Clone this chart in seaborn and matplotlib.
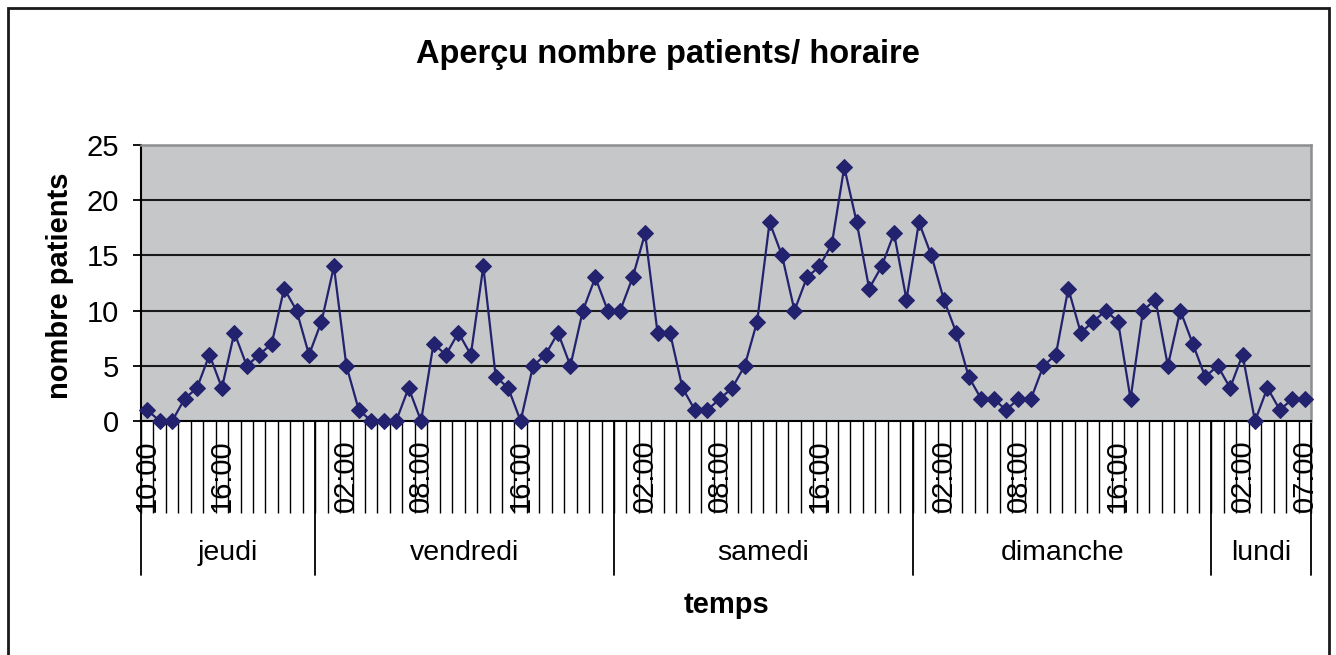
"""
Apercu du nombre de patients par heure (jeudi 10:00 -> lundi 07:00)
"""

import numpy as np
import pandas as pd
import matplotlib
matplotlib.use('Agg')
import matplotlib.pyplot as plt
import matplotlib.transforms as mtransforms
from matplotlib.patches import Rectangle
import seaborn as sns

# --- Donnees ---
jours = ['jeudi', 'vendredi', 'samedi', 'dimanche', 'lundi']
heures_par_jour = [list(range(10, 24)), list(range(24)), list(range(24)),
                   list(range(24)), list(range(8))]

patients_jeudi = [1, 0, 0, 2, 3, 6, 3, 8, 5, 6, 7, 12, 10, 6]
patients_vendredi = [9, 14, 5, 1, 0, 0, 0, 3, 0, 7, 6, 8, 6, 14, 4, 3, 0, 5,
                     6, 8, 5, 10, 13, 10]
patients_samedi = [10, 13, 17, 8, 8, 3, 1, 1, 2, 3, 5, 9, 18, 15, 10, 13, 14,
                   16, 23, 18, 12, 14, 17, 11]
patients_dimanche = [18, 15, 11, 8, 4, 2, 2, 1, 2, 2, 5, 6, 12, 8, 9, 10, 9, 2,
                     10, 11, 5, 10, 7, 4]
patients_lundi = [5, 3, 6, 0, 3, 1, 2, 2]

# heures affichees sous l'axe (les autres sont masquees comme dans Excel)
heures_affichees = {'jeudi': [10, 16], 'vendredi': [2, 8, 16],
                    'samedi': [2, 8, 16], 'dimanche': [2, 8, 16],
                    'lundi': [2, 7]}

series = [patients_jeudi, patients_vendredi, patients_samedi,
          patients_dimanche, patients_lundi]

rows = []
for jour, heures, vals in zip(jours, heures_par_jour, series):
    for h, v in zip(heures, vals):
        rows.append({'jour': jour, 'heure': h, 'patients': v})
df = pd.DataFrame(rows)
df['idx'] = np.arange(len(df))

# --- Style ---
sns.set_style('white')
plt.rcParams['font.family'] = ['Liberation Sans', 'DejaVu Sans']
plt.rcParams['text.color'] = 'black'
plt.rcParams['xtick.color'] = 'black'
plt.rcParams['ytick.color'] = 'black'
plt.rcParams['xtick.labelcolor'] = 'black'
plt.rcParams['ytick.labelcolor'] = 'black'

W, H = 1336, 655
fig = plt.figure(figsize=(W / 100, H / 100), dpi=100)
x0, x1, y0, y1 = 141, 1311, 145, 421
ax = fig.add_axes([x0 / W, 1 - y1 / H, (x1 - x0) / W, (y1 - y0) / H])
ax.set_facecolor('#C6C7C9')

# grille horizontale
for g in [5, 10, 15, 20]:
    ax.axhline(g, color='#1a1a1a', linewidth=1.5, zorder=1)

sns.lineplot(data=df, x='idx', y='patients', ax=ax, color='#22226E',
             linewidth=1.6, marker='D', markersize=8.5, markeredgecolor='#22226E',
             zorder=3, clip_on=False)

n = len(df)
ax.set_xlim(-0.5, n - 0.5)
ax.set_ylim(0, 25)
ax.set_yticks([0, 5, 10, 15, 20, 25])
ax.tick_params(axis='y', direction='out', length=6, width=1.3, color='black',
               labelsize=21, pad=10, left=True)

# etiquettes horaires
pos, labs = [], []
for _, r in df.iterrows():
    if r['heure'] in heures_affichees[r['jour']]:
        pos.append(r['idx'])
        labs.append(f"{int(r['heure']):02d}:00")
ax.set_xticks(pos)
ax.set_xticklabels(labs, rotation=90)
ax.tick_params(axis='x', which='major', length=0, labelsize=21, pad=13)
ax.set_xticks(np.arange(-0.5, n, 1), minor=True)
ax.tick_params(axis='x', which='minor', direction='out', length=66, width=1.0,
               color='black', bottom=True)
ax.set_xlabel('')
ax.set_ylabel('')

for s in ['left', 'bottom']:
    ax.spines[s].set_color('black')
    ax.spines[s].set_linewidth(1.5)
for s in ['top', 'right']:
    ax.spines[s].set_color('#8E8E8E')
    ax.spines[s].set_linewidth(1.8)

# separateurs et noms des jours
trans = mtransforms.blended_transform_factory(ax.transData, ax.transAxes)
bornes = np.cumsum([0] + [len(h) for h in heures_par_jour]) - 0.5
for b in bornes:
    ax.plot([b, b], [0, -154 / 276], transform=trans, color='black',
            linewidth=1.3, clip_on=False)
for i, jour in enumerate(jours):
    ax.text((bornes[i] + bornes[i + 1]) / 2, -132 / 276, jour, transform=trans,
            ha='center', va='center', fontsize=20.5)

ax.text(0.5, -184 / 276, 'temps', transform=ax.transAxes, ha='center',
        va='center', fontsize=21, fontweight='bold')
fig.text(60 / W, 1 - 286 / H, 'nombre patients', rotation=90, ha='center',
         va='center', fontsize=21, fontweight='bold')
fig.text(668 / W, 1 - 55 / H, 'Aperçu nombre patients/ horaire', ha='center',
         va='center', fontsize=23.5, fontweight='bold')

# cadre du graphique
fig.patches.append(Rectangle((8 / W, -0.05), 1321 / W, 1 - 8 / H + 0.05,
                             transform=fig.transFigure, fill=False,
                             edgecolor='#1a1a1a', linewidth=2.0))

fig.savefig('out.png', dpi=100)
